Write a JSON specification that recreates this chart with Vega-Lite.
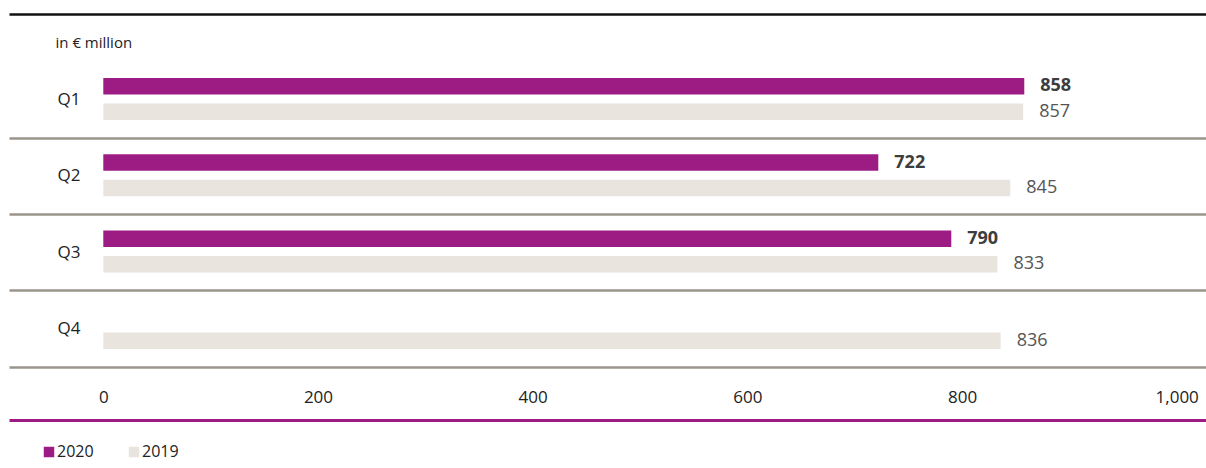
{
  "$schema": "https://vega.github.io/schema/vega-lite/v6.json",
  "width": 1197,
  "height": 406,
  "autosize": {"type": "none"},
  "padding": {"left": 9, "top": 14, "right": 0, "bottom": 48},
  "background": "white",
  "config": {
    "view": {"stroke": null},
    "font": "Open Sans",
    "text": {"font": "Open Sans"}
  },
  "data": {
    "values": [
      {"quarter": "Q1", "year": "2020", "value": 858},
      {"quarter": "Q1", "year": "2019", "value": 857},
      {"quarter": "Q2", "year": "2020", "value": 722},
      {"quarter": "Q2", "year": "2019", "value": 845},
      {"quarter": "Q3", "year": "2020", "value": 790},
      {"quarter": "Q3", "year": "2019", "value": 833},
      {"quarter": "Q4", "year": "2019", "value": 836}
    ]
  },
  "resolve": {"axis": {"x": "independent", "y": "independent"}},
  "layer": [
    {
      "mark": {"type": "bar"},
      "encoding": {
        "x": {
          "field": "value", "type": "quantitative",
          "scale": {"domain": [-87.85, 1027.3], "nice": false, "zero": false},
          "axis": {
            "orient": "bottom", "values": [0, 200, 400, 600, 800, 1000], "format": ",.0f",
            "domainColor": "#9c1c84", "domainWidth": 3, "ticks": false, "tickSize": 0, "grid": false,
            "labelFontSize": 17, "labelColor": "#222222", "labelBaseline": "middle", "labelPadding": -23,
            "labelFont": "Open Sans", "title": null
          }
        },
        "y": {
          "field": "quarter", "type": "nominal",
          "scale": {"domain": ["Q1", "Q2", "Q3", "Q4"], "paddingInner": 0, "paddingOuter": 0.6606, "align": 0.476},
          "axis": {
            "orient": "left", "domain": false, "ticks": false, "tickSize": 0, "grid": false,
            "labelAlign": "left", "labelPadding": -48, "labelFontSize": 17, "labelColor": "#222222",
            "labelFont": "Open Sans",
            "title": "in € million", "titleAngle": 0, "titleAlign": "left", "titleBaseline": "middle",
            "titleX": 46, "titleY": 28, "titleFontSize": 15, "titleFontWeight": "normal",
            "titleColor": "#222222", "titleFont": "Open Sans"
          }
        },
        "yOffset": {
          "field": "year", "type": "nominal",
          "scale": {"domain": ["2020", "2019"], "paddingInner": 0.353, "paddingOuter": 0.673, "align": 0.467}
        },
        "color": {
          "field": "year", "type": "nominal",
          "scale": {"domain": ["2020", "2019"], "range": ["#9c1c84", "#e9e5de"]},
          "legend": {
            "orient": "none", "legendX": 32, "legendY": 430, "direction": "horizontal",
            "title": null, "symbolType": "square", "symbolSize": 110, "symbolStrokeWidth": 0,
            "symbolOpacity": 1, "labelFontSize": 16, "labelColor": "#222222", "labelFont": "Open Sans",
            "labelOffset": 0, "columnPadding": 32, "padding": 0
          }
        }
      }
    },
    {
      "transform": [{"filter": "datum.year === '2020'"}],
      "mark": {"type": "text", "align": "left", "baseline": "middle", "dx": 16, "fontSize": 18, "fontWeight": "bold", "color": "#3d3d3d"},
      "encoding": {
        "x": {
          "field": "value", "type": "quantitative",
          "scale": {"domain": [-87.85, 1027.3], "nice": false, "zero": false},
          "axis": {
            "orient": "top", "domainColor": "#111111", "domainWidth": 2.5, "labels": false,
            "ticks": false, "grid": false, "title": null
          }
        },
        "y": {
          "field": "quarter", "type": "nominal",
          "axis": {
            "orient": "right", "domain": false, "ticks": false, "labels": false, "grid": true,
            "gridColor": "#9b948c", "gridWidth": 2.5, "bandPosition": 1, "title": null
          }
        },
        "yOffset": {"field": "year", "type": "nominal"},
        "text": {"field": "value", "type": "quantitative"}
      }
    },
    {
      "transform": [{"filter": "datum.year === '2019'"}],
      "mark": {"type": "text", "align": "left", "baseline": "middle", "dx": 16, "fontSize": 18, "fontWeight": "normal", "color": "#555555"},
      "encoding": {
        "x": {"field": "value", "type": "quantitative", "axis": null},
        "y": {"field": "quarter", "type": "nominal", "axis": null},
        "yOffset": {"field": "year", "type": "nominal"},
        "text": {"field": "value", "type": "quantitative"}
      }
    }
  ]
}
